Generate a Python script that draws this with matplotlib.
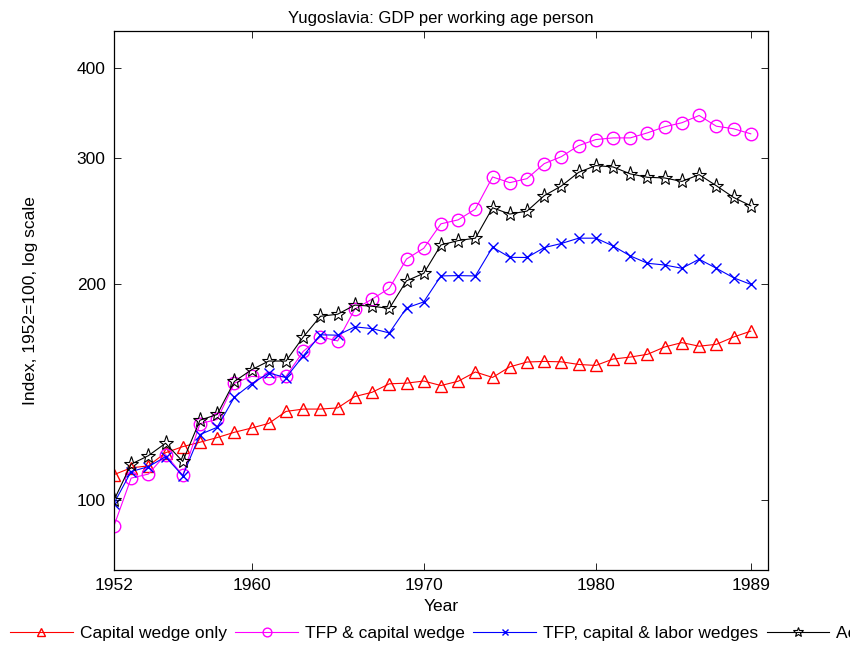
import numpy as np
import matplotlib
matplotlib.use("Agg")
import matplotlib.pyplot as plt
from matplotlib.ticker import NullLocator, FixedLocator, FixedFormatter

plt.rcParams['font.family'] = ['Liberation Sans', 'DejaVu Sans']

# years 1952..1989
years = np.arange(1952, 1990)

# indices, 1952=100
capital_only = [108.6, 111.0, 111.7, 116.5, 118.8, 120.5, 122.3, 124.4, 126.1, 128.0,
                133.0, 134.0, 134.0, 134.5, 139.5, 141.4, 145.3, 145.6, 146.6, 144.5,
                146.5, 150.9, 148.3, 153.4, 155.8, 156.1, 155.9, 154.6, 154.1, 157.3,
                158.3, 159.7, 163.5, 165.8, 163.9, 164.9, 168.8, 172.0]
tfp_capital = [92.1, 107.4, 108.8, 115.8, 108.4, 127.9, 129.6, 145.6, 148.8, 148.2,
               148.8, 161.2, 168.9, 166.7, 184.6, 190.6, 197.3, 216.7, 224.3, 242.6,
               245.7, 254.3, 281.9, 276.8, 280.4, 294.2, 300.9, 311.7, 317.8, 319.5,
               319.5, 324.7, 331.1, 335.4, 343.3, 331.7, 329.0, 323.7]
tfp_cap_labor = [99.0, 109.7, 111.4, 115.0, 108.2, 123.5, 126.4, 139.2, 145.3, 150.4,
                 148.2, 158.9, 170.0, 169.8, 174.4, 173.4, 171.0, 185.3, 188.9, 205.3,
                 205.5, 205.3, 225.1, 217.9, 217.8, 224.8, 227.8, 231.7, 231.7, 226.0,
                 218.9, 213.8, 212.6, 210.4, 216.6, 210.4, 204.1, 199.8]
actual = [100.0, 112.3, 115.4, 120.1, 113.3, 129.3, 131.7, 146.4, 152.0, 156.3,
          156.3, 168.8, 180.4, 181.6, 187.0, 186.3, 185.0, 202.1, 207.0, 226.7,
          229.9, 231.7, 255.4, 250.3, 252.7, 265.5, 273.9, 286.1, 292.4, 291.1,
          284.7, 281.6, 281.0, 277.9, 284.0, 274.1, 264.0, 257.0]

labels = ['Capital wedge only', 'TFP & capital wedge',
          'TFP, capital & labor wedges', 'Actual data']
xticks = [1952, 1960, 1970, 1980, 1989]
yticks = [100, 200, 300, 400]

fig = plt.figure(figsize=(8.5, 6.5), dpi=100)
ax = fig.add_axes([0.134, 0.123, 0.7695, 0.8293])

lw = 0.8
ax.plot(years, capital_only, color='#ff0000', lw=lw, marker='^', ms=8,
        mfc='none', mew=1.0, label=labels[0])
ax.plot(years, tfp_capital, color='#ff00ff', lw=lw, marker='o', ms=9,
        mfc='none', mew=1.0, label=labels[1])
ax.plot(years, tfp_cap_labor, color='#0000ff', lw=lw, marker='x', ms=7,
        mew=1.0, label=labels[2])
ax.plot(years, actual, color='black', lw=lw, marker='*', ms=11,
        mfc='none', mew=0.8, label=labels[3])

ax.set_yscale('log')
ax.set_ylim(80, 450)
ax.set_xlim(1952, 1990)
ax.yaxis.set_major_locator(FixedLocator(yticks))
ax.yaxis.set_major_formatter(FixedFormatter([str(t) for t in yticks]))
ax.yaxis.set_minor_locator(NullLocator())
ax.set_xticks(xticks)
ax.set_xticklabels([str(t) for t in xticks])

ax.tick_params(direction='in', top=True, right=True, length=5, width=0.6,
               labelsize=12.5, pad=6)
for s in ax.spines.values():
    s.set_linewidth(0.9)

ax.set_title('Yugoslavia: GDP per working age person', fontsize=12, pad=6)
ax.set_xlabel('Year', fontsize=12.5, labelpad=4)
ax.set_ylabel('Index, 1952=100, log scale', fontsize=12.5, labelpad=28)

fig.legend(loc='center left', bbox_to_anchor=(0.012, 0.026),
           bbox_transform=fig.transFigure, ncol=4, frameon=False,
           fontsize=12.5, handlelength=3.6, handletextpad=0.4,
           columnspacing=0.5, borderpad=0, borderaxespad=0, numpoints=1,
           markerscale=0.7)

fig.savefig('out.png', dpi=100)
